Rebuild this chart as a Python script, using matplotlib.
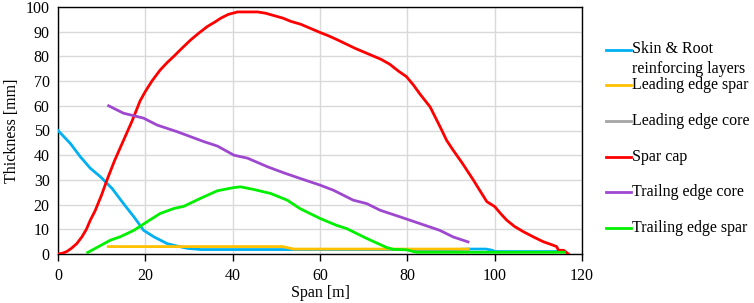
import matplotlib
matplotlib.use("Agg")
import matplotlib.pyplot as plt
from matplotlib.lines import Line2D

plt.rcParams['font.family'] = ['Liberation Serif', 'DejaVu Serif']

# Skin & Root reinforcing layers
skin_x = [0, 2.8, 5.1, 7.4, 9.7, 12.4, 15, 17.4, 19.6, 22, 25, 27.3, 29.6, 32.7, 40, 50, 60, 70, 80, 90, 94, 98, 99.5, 100, 110, 116]
skin_y = [50, 44.8, 39.4, 34.7, 31.3, 26.5, 20.4, 15, 9.6, 6.9, 4.2, 3.2, 2.3, 1.8, 1.8, 1.8, 1.8, 1.8, 1.8, 1.8, 2.0, 2.0, 1.5, 1.0, 1.0, 1.0]

# Leading edge spar
les_x = [11.5, 20, 30, 40, 51.5, 54, 60, 70, 80, 94]
les_y = [3, 3, 3, 3, 3, 2, 2, 2, 2, 2]

# Leading edge core
lec_x = [54, 60, 70, 80, 94]
lec_y = [2, 2, 2, 2, 2]

# Spar cap
cap_x = [0, 1, 2, 3, 4.3, 5.5, 6.5, 7.4, 8.5, 10, 11.2, 13, 15, 17, 18.8, 20, 21.5, 23.4, 25, 26.5,
         28.5, 30.4, 32.3, 34.2, 36, 37.3, 39, 41.1, 43, 45.7, 47.5, 49.5, 51.5, 53.3, 55.6,
         58, 60, 62, 64, 66, 68, 70, 72, 74, 76, 78, 79.8, 81.4, 83, 85.2, 87.5, 89, 90.5, 92.5,
         95.1, 96.5, 98.2, 100, 101.3, 102.7, 104.5, 106.6, 109, 111.1, 113, 114.2, 114.6, 115.8, 116.9]
cap_y = [0, 0.3, 1.0, 2.2, 4.2, 7, 10, 13.7, 17.5, 24, 29.9, 38, 46, 54, 62, 65.8, 70, 74.5, 77.5, 80,
         83.5, 86.7, 89.5, 92.1, 94, 95.5, 97, 98, 98, 98, 97.5, 96.5, 95.5, 94.2, 93,
         91.2, 89.7, 88.3, 86.7, 85, 83.3, 81.8, 80.3, 78.8, 76.8, 74, 71.8, 68.4, 64.5, 59.6, 51.5, 46, 42, 37,
         30, 26, 21.2, 19.2, 16.5, 13.8, 11.2, 9, 6.8, 5, 3.8, 3, 1.5, 1.5, 0]

# Trailng edge core
tec_x = [11.6, 15, 19.6, 22.7, 27.3, 29.6, 33.4, 36.5, 40.3, 43.4, 48, 51.8, 55.6, 60, 63.1, 67.6,
         70.7, 73.8, 78.4, 82.9, 87.4, 90.5, 93.9]
tec_y = [60, 57, 55, 52.2, 49.5, 48, 45.5, 43.7, 40, 38.8, 35.3, 32.8, 30.5, 27.9, 25.8, 21.8,
         20.4, 17.7, 15, 12.3, 9.6, 6.9, 4.9]

# Trailing edge spar
tes_x = [6.8, 12, 14.3, 17.4, 20, 23.4, 26.5, 28.8, 32.6, 36.5, 40.3, 41.8, 44.9, 48.7, 52.5, 55.4,
         60, 63.8, 66.1, 70.7, 75.3, 76.8, 79.8, 82, 90, 100, 110, 116]
tes_y = [0.6, 5.6, 7, 9.6, 12.6, 16.4, 18.4, 19.3, 22.5, 25.6, 26.9, 27.2, 26.1, 24.5, 21.8, 18.4,
         14.4, 11.6, 10.3, 6.3, 2.6, 1.9, 1.7, 0.7, 0.7, 0.7, 0.7, 0.7]

labels = ["Skin & Root\nreinforcing layers", "Leading edge spar", "Leading edge core",
          "Spar cap", "Trailng edge core", "Trailing edge spar"]
colors = ["#00B0F0", "#FFC000", "#A5A5A5", "#FF0000", "#9E48D0", "#00F000"]
xs_all = [skin_x, les_x, lec_x, cap_x, tec_x, tes_x]
ys_all = [skin_y, les_y, lec_y, cap_y, tec_y, tes_y]

fig = plt.figure(figsize=(7.54, 3.03), dpi=100)
ax = fig.add_axes([58 / 754, 49 / 303, 524 / 754, 247 / 303])

zorders = [3, 4, 2, 5, 5, 6]
for xs, ys, color, z in zip(xs_all, ys_all, colors, zorders):
    ax.plot(xs, ys, color=color, lw=2.0, zorder=z, solid_joinstyle='round')

ax.set_xlim(0, 120)
ax.set_ylim(0, 100)
ax.set_xticks(range(0, 121, 20))
ax.set_yticks(range(0, 101, 10))
ax.grid(True, color="#D9D9D9", lw=1.0, zorder=0)
ax.set_axisbelow(True)
for s in ax.spines.values():
    s.set_color("#000000")
    s.set_linewidth(1.0)
ax.tick_params(axis='x', direction='out', length=5, width=1, labelsize=11.5, pad=5)
ax.tick_params(axis='y', direction='out', length=0, labelsize=11.5, pad=6)
ax.set_xlabel("Span [m]", fontsize=11.5, labelpad=1)
ax.set_ylabel("Thickness [mm]", fontsize=11.5, labelpad=4)

# legend on the right, drawn by hand to match the uneven spacing
leg_y = [50, 85, 121, 157, 192, 228]
for label, color, yy in zip(labels, colors, leg_y):
    yf = 1 - yy / 303
    fig.add_artist(Line2D([606 / 754, 631 / 754], [yf, yf], color=color, lw=2.0))
    if '\n' in label:
        fig.text(632 / 754, yf + 9 / 303, label, fontsize=11.5, va='top', ha='left', linespacing=1.3)
    else:
        fig.text(632 / 754, yf, label, fontsize=11.5, va='center', ha='left')

fig.savefig("out.png", dpi=100)
